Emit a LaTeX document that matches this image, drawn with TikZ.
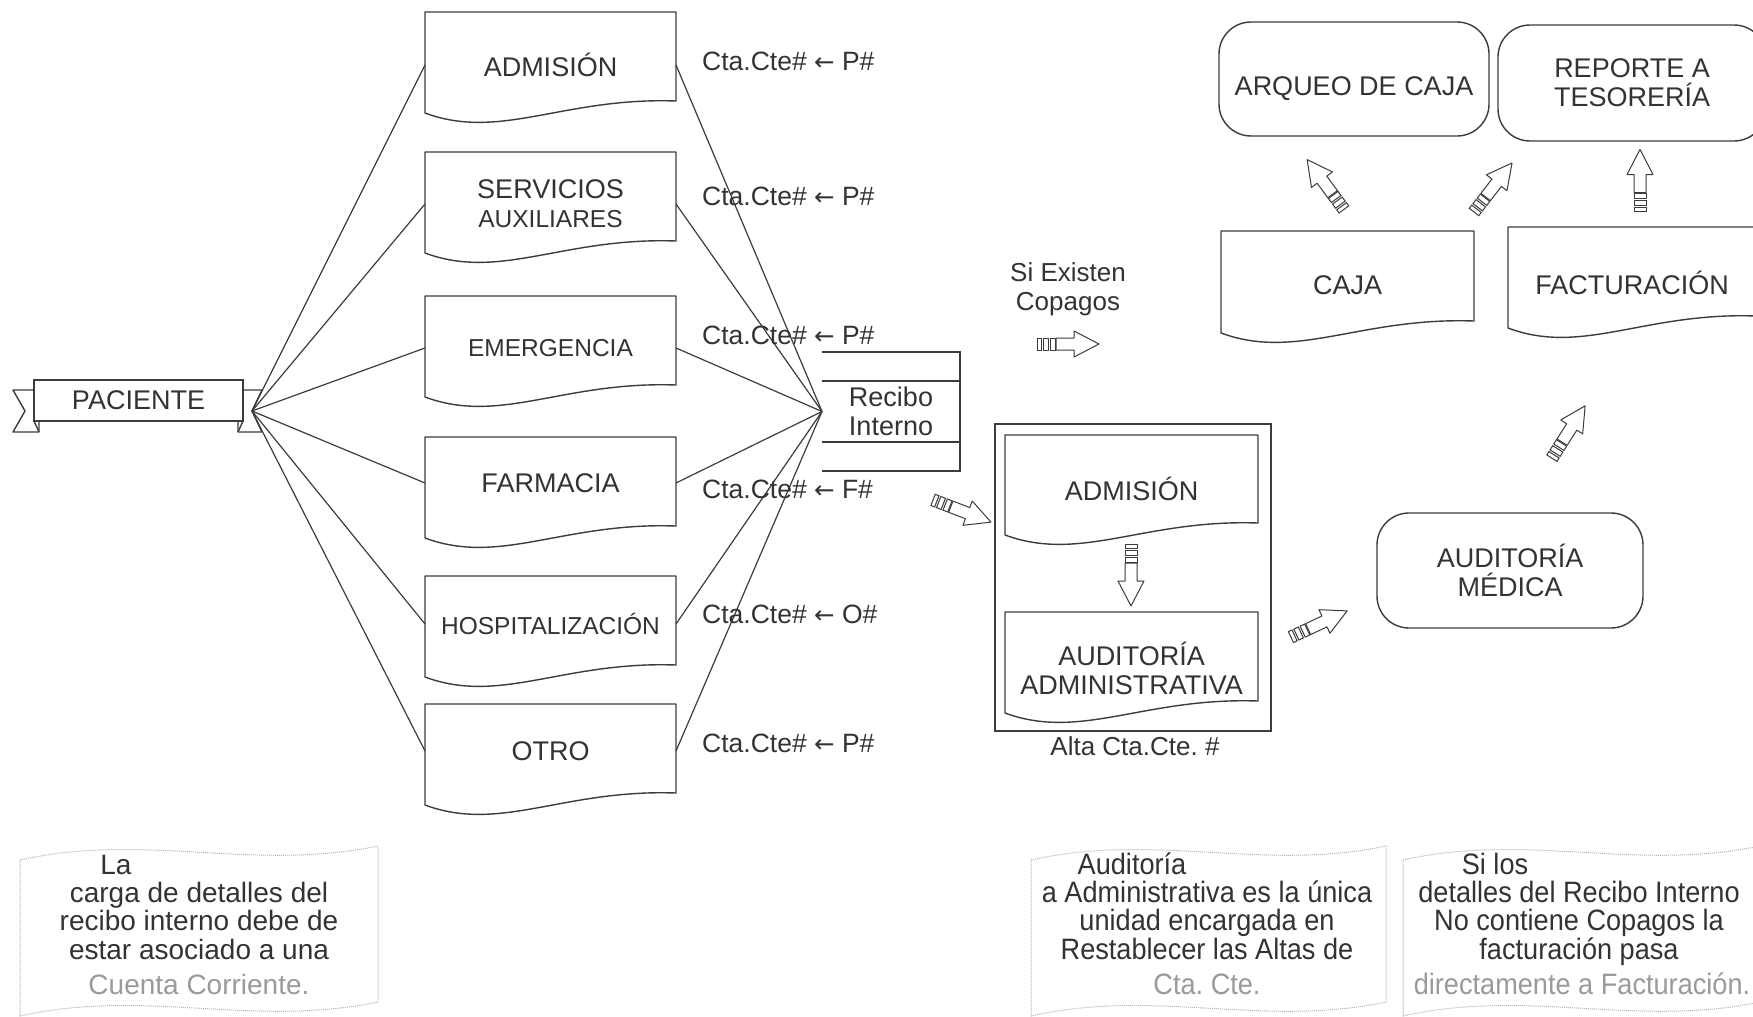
\documentclass[tikz,border=0pt]{standalone}
\usepackage{fontspec}
\setmainfont{Liberation Sans}
\newfontfamily\narrowfont{Liberation Sans}[FakeStretch=0.92]
\newfontfamily\symfont{DejaVu Sans}
\usetikzlibrary{calc}
\frenchspacing
\definecolor{ink}{HTML}{333333}
\definecolor{linec}{HTML}{3C3C3C}
\definecolor{soft}{HTML}{9A9A9A}
\definecolor{dots}{HTML}{B4B4B4}

\newcommand\larr{{\symfont\fontsize{24.5}{30}\selectfont ←}}

\tikzset{
  shp/.style={draw=linec, line width=1.4pt, fill=white, line join=round},
  lbl/.style={inner sep=0pt, outer sep=0pt, text=ink, align=center,
              font=\fontsize{27}{29}\selectfont},
  rbox/.style={lbl, draw=linec, line width=1.4pt, rounded corners=32pt},
  wire/.style={draw=linec, line width=1.2pt},
  cta/.style={inner sep=0pt, anchor=west, text=ink, font=\fontsize{26.5}{30}\selectfont},
  notebox/.style={draw=dots, line width=1pt, densely dotted},
  notetxt/.style={inner sep=0pt, anchor=base, text=ink, font=\fontsize{28}{28}\selectfont},
  narrowtxt/.style={inner sep=0pt, anchor=base, text=ink, font=\narrowfont\fontsize{29.5}{29}\selectfont},
  sarrow/.pic={
    \draw[linec, line width=1pt, fill=white, line join=round]
      (-12,-6) -- (6,-6) -- (6,-13) -- (31,0) -- (6,13) -- (6,6) -- (-12,6) -- cycle;
    \draw[linec, line width=1pt]
      (-31,-6) rectangle (-27,6) (-25,-6) rectangle (-20,6) (-18,-6) rectangle (-13,6);
  }
}

% document symbol: name, left, top, right, bottom of the straight part, text y, text
\newcommand\docshape[7]{%
  \draw[shp] (#2,#3) -- (#4,#3) -- (#4,#5)
    .. controls ({#2+0.55*(#4-#2)},{#5-4}) and ({#2+0.3*(#4-#2)},{#5+40}) .. (#2,{#5+12}) -- cycle;
  \node[lbl, minimum width={(#4-#2)*1pt}] (#1) at ({(#2+#4)/2},#6) {#7};
}
% waving paper note: left, top, right, bottom
\newcommand\tapenote[4]{%
  \draw[notebox] (#1,{#2+14})
    .. controls ({#1+0.35*(#3-#1)},{#2-14}) and ({#1+0.65*(#3-#1)},{#2+26}) .. (#3,#2)
    -- (#3,#4)
    .. controls ({#1+0.65*(#3-#1)},{#4+26}) and ({#1+0.35*(#3-#1)},{#4-14}) .. (#1,{#4+14}) -- cycle;
}

\begin{document}
\begin{tikzpicture}[x=1pt, y=-1pt]
\useasboundingbox (0,0) rectangle (1753,1017);
\fill[white] (0,0) rectangle (1753,1017);
\clip (0,0) rectangle (1753,1017);

% ---- patient banner ----
\draw[shp] (39,390) -- (13,390) -- (25,411) -- (13,432) -- (39,432) -- cycle;
\draw[shp] (34,421) -- (39,432);
\draw[shp] (238,390) -- (262,390) -- (252,411) -- (262,432) -- (238,432) -- cycle;
\draw[shp] (243,421) -- (238,432);
\node[lbl, draw=linec, line width=1.4pt, fill=white, minimum width=209pt, minimum height=41pt]
  (pac) at (138.5,400.5) {PACIENTE};
\coordinate (pacR) at (252,411);

% ---- service areas ----
\docshape{adm}{425}{12}{676}{101}{65}{ADMISIÓN}
\docshape{ser}{425}{152}{676}{241}{204}{SERVICIOS\\{\fontsize{24.5}{29}\selectfont AUXILIARES}}
\docshape{eme}{425}{296}{676}{385}{348}{\fontsize{24.5}{28}\selectfont EMERGENCIA}
\docshape{far}{425}{437}{676}{526}{483}{FARMACIA}
\docshape{hos}{425}{576}{676}{665}{624}{\fontsize{24.5}{28}\selectfont HOSPITALIZACIÓN}
\docshape{otr}{425}{704}{676}{793}{751}{OTRO}

% ---- internal receipt ----
\node[lbl, minimum width=138pt, minimum height=119pt] (rec) at (891,411.5) {Recibo\\Interno};
\draw[wire, line width=1.4pt] (rec.north west) -- (rec.north east) -- (rec.south east) -- (rec.south west)
  ($(rec.north west)+(0,29)$) -- ($(rec.north east)+(0,29)$)
  ($(rec.south west)+(0,-29)$) -- ($(rec.south east)+(0,-29)$);

\foreach \n in {adm,ser,eme,far,hos,otr}{
  \draw[wire] (pacR) -- (\n.west);
  \draw[wire] (\n.east) -- (rec.west);
}

% ---- account labels ----
\node[cta] (c1) at (702,61)  {Cta.Cte\# \larr{} P\#};
\node[cta] (c2) at (702,196) {Cta.Cte\# \larr{} P\#};
\node[cta] (c3) at (702,335) {Cta.Cte\# \larr{} P\#};
\node[cta] (c4) at (702,489) {Cta.Cte\# \larr{} F\#};
\node[cta] (c5) at (702,614) {Cta.Cte\# \larr{} O\#};
\node[cta] (c6) at (702,743) {Cta.Cte\# \larr{} P\#};

\node[lbl, font=\fontsize{26}{29}\selectfont] (cop) at (1068,289) {Si Existen\\Copagos};

% ---- administrative group ----
\node[draw=linec, line width=1.4pt, minimum width=276pt, minimum height=307pt, inner sep=0pt]
  (grp) at (1133,577.5) {};
\docshape{gadm}{1005}{435}{1258}{523}{489}{ADMISIÓN}
\docshape{gaud}{1005}{612}{1258}{701}{668}{AUDITORÍA\\ADMINISTRATIVA}
\node[lbl, font=\fontsize{26}{29}\selectfont] (alta) at (1135,746) {Alta Cta.Cte. \#};

% ---- right side ----
\node[rbox, minimum width=270pt, minimum height=114pt] (arq) at (1354,79)
  {\raisebox{-16pt}[0pt][0pt]{ARQUEO DE CAJA}};
\node[rbox, minimum width=268pt, minimum height=116pt] (rep) at (1632,83) {REPORTE A\\TESORERÍA};
\docshape{caj}{1221}{231}{1474}{321}{285}{CAJA}
\docshape{fac}{1508}{227}{1756}{316}{283}{FACTURACIÓN}
\node[rbox, minimum width=266pt, minimum height=115pt] (med) at (1510,570.5) {AUDITORÍA\\MÉDICA};

% ---- block arrows ----
\pic[rotate=0] at (1068,344) {sarrow};
\pic[rotate=-21] at (962,511) {sarrow};
\pic[rotate=-90] at (1131,575) {sarrow};
\pic[rotate=25] at (1319,624) {sarrow};
\pic[rotate=57.6] at (1568.5,432) {sarrow};
\pic[rotate=126.4] at (1325.5,184.5) {sarrow};
\pic[rotate=52.2] at (1493,187.5) {sarrow};
\pic[rotate=90] at (1640,180.5) {sarrow};

% ---- notes ----
\tapenote{20}{846}{378}{1002}
\node[notetxt] (n1a) at (116,874) {La};
\node[notetxt] (n1b) at (199,902) {carga de detalles del};
\node[notetxt] (n1c) at (199,930) {recibo interno debe de};
\node[notetxt] (n1d) at (199,959) {estar asociado a una};
\node[notetxt, text=soft] (n1e) at (199,994) {Cuenta Corriente.};

\tapenote{1031}{846}{1386}{1002}
\node[narrowtxt] (n2a) at (1132,874) {Auditoría};
\node[narrowtxt] (n2b) at (1207,902) {a Administrativa es la única};
\node[narrowtxt] (n2c) at (1207,930) {unidad encargada en};
\node[narrowtxt] (n2d) at (1207,959) {Restablecer las Altas de};
\node[narrowtxt, text=soft] (n2e) at (1207,994) {Cta. Cte.};

\tapenote{1403}{846}{1760}{1002}
\node[narrowtxt] (n3a) at (1495,874) {Si los};
\node[narrowtxt] (n3b) at (1579,902) {detalles del Recibo Interno};
\node[narrowtxt] (n3c) at (1579,930) {No contiene Copagos la};
\node[narrowtxt] (n3d) at (1579,959) {facturación pasa};
\node[narrowtxt, text=soft] (n3e) at (1582,994) {directamente a Facturación.};
\end{tikzpicture}
\end{document}
